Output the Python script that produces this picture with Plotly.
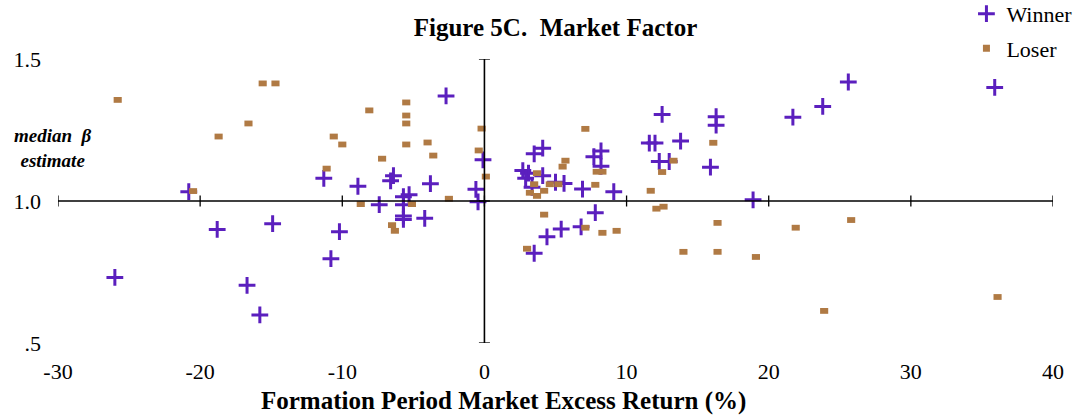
import plotly.graph_objects as go

# Formation-period market excess return (%) and median beta estimate
winner_x = [-26.0, -20.8, -18.8, -16.7, -15.8, -14.9, -11.3, -10.8, -10.2, -8.9,
            -7.4, -6.4, -6.6, -5.3, -5.7, -5.7, -5.7, -5.7, -4.2, -3.8,
            -2.7, -0.6, -0.45, -0.1, 2.7, 3.1, 2.9, 3.5, 4.1, 4.1,
            3.35, 3.5, 4.4, 5.0, 5.6, 5.4, 6.9, 6.8, 7.7, 8.2,
            8.2, 7.8, 9.1, 11.6, 12.0, 12.3, 13.0, 12.5, 13.8, 15.9,
            16.3, 16.3, 18.9, 21.7, 23.8, 25.6, 35.9]
winner_beta = [0.731, 1.033, 0.900, 0.703, 0.599, 0.920, 1.080, 0.797, 0.892, 1.052,
               0.987, 1.089, 1.071, 1.022, 1.015, 0.987, 0.947, 0.935, 0.939, 1.061,
               1.370, 1.041, 0.997, 1.145, 1.107, 1.098, 1.080, 1.166, 1.186, 1.089,
               1.048, 0.816, 0.874, 1.066, 1.062, 0.901, 1.042, 0.909, 1.156, 1.176,
               1.122, 0.959, 1.033, 1.204, 1.204, 1.139, 1.139, 1.305, 1.211, 1.119,
               1.297, 1.267, 1.004, 1.295, 1.333, 1.419, 1.400]

loser_x = [-25.8, -20.5, -18.7, -16.6, -15.6, -14.7, -11.1, -10.6, -10.0, -8.7,
           -8.1, -7.2, -6.5, -6.3, -5.5, -5.5, -5.5, -5.5, -5.1, -4.0,
           -3.6, -2.5, -0.4, -0.2, 0.1, 3.0, 3.2, 3.5, 3.7, 3.7,
           4.2, 4.2, 4.6, 5.2, 5.5, 5.7, 7.1, 7.1, 7.8, 7.9,
           8.3, 8.3, 9.3, 11.7, 12.1, 12.6, 12.5, 13.3, 14.0, 16.1,
           16.4, 16.4, 19.1, 21.9, 23.9, 25.8, 36.1]
loser_beta = [1.356, 1.035, 1.227, 1.273, 1.414, 1.414, 1.114, 1.227, 1.199, 0.989,
              1.319, 1.149, 0.915, 0.895, 1.347, 1.301, 1.273, 1.199, 0.989, 1.206,
              1.160, 1.008, 1.178, 1.255, 1.086, 0.832, 1.029, 1.059, 1.098, 1.018,
              0.952, 1.036, 1.059, 1.059, 1.121, 1.142, 1.254, 0.906, 1.057, 1.103,
              1.103, 0.888, 0.895, 1.036, 0.973, 0.980, 1.102, 1.142, 0.821, 1.205,
              0.923, 0.821, 0.803, 0.906, 0.613, 0.933, 0.662]

x_ticks = [-30, -20, -10, 0, 10, 20, 30, 40]
y_ticks = [0.5, 1.0, 1.5]
y_tick_text = [".5", "1.0", "1.5"]

PURPLE = "#5B1FBE"
BROWN = "#B07A44"
FONT = "Liberation Serif"

fig = go.Figure()

# data series (legend handled by the key entries below)
fig.add_trace(go.Scatter(
    x=winner_x, y=winner_beta, mode="markers", name="Winner",
    showlegend=False,
    marker=dict(symbol="cross-thin", size=12, color=PURPLE,
                line=dict(color=PURPLE, width=3)),
))
fig.add_trace(go.Scatter(
    x=loser_x, y=loser_beta, mode="markers", name="Loser",
    showlegend=False,
    marker=dict(symbol="line-ew", size=5.8, color=BROWN,
                line=dict(color=BROWN, width=5.8)),
))

# legend key entries
fig.add_trace(go.Scatter(
    x=[None], y=[None], mode="markers", name="Winner", legendgroup="w",
    marker=dict(symbol="cross-thin", size=12, color=PURPLE,
                line=dict(color=PURPLE, width=3)),
))
fig.add_trace(go.Scatter(
    x=[None], y=[None], mode="markers", name="Loser", legendgroup="l",
    marker=dict(symbol="square", size=7, color=BROWN, line=dict(width=0)),
))

shapes = []
# axes crossing at (0, 1.0)
shapes.append(dict(type="line", xref="x", yref="y", x0=x_ticks[0], x1=x_ticks[-1],
                   y0=1.0, y1=1.0, line=dict(color="black", width=1.3)))
shapes.append(dict(type="line", xref="x", yref="y", x0=0, x1=0,
                   y0=y_ticks[0], y1=y_ticks[-1], line=dict(color="black", width=1.6)))
# cross tick marks on the horizontal axis
for t in x_ticks:
    shapes.append(dict(type="line", xref="x", yref="y", ysizemode="pixel", yanchor=1.0,
                       x0=t, x1=t, y0=-5.5, y1=5.5, line=dict(color="black", width=1.3)))
# cross tick marks on the vertical axis
for t in y_ticks:
    shapes.append(dict(type="line", xref="x", yref="y", xsizemode="pixel", xanchor=0,
                       x0=-5.5, x1=5.5, y0=t, y1=t, line=dict(color="black", width=1.3)))

tick_font = dict(family=FONT, size=22, color="black")

fig.update_layout(
    width=1084, height=417,
    margin=dict(l=58, r=31, t=59, b=74, autoexpand=False),
    paper_bgcolor="white", plot_bgcolor="white",
    font=dict(family=FONT, size=22, color="black"),
    title=dict(text="<b>Figure 5C.  Market Factor</b>", x=0.5, xref="paper",
               y=0.935, yref="container", yanchor="middle",
               font=dict(family=FONT, size=25, color="black")),
    xaxis=dict(range=[-30, 40], tickvals=x_ticks, ticktext=[str(v) for v in x_ticks],
               showgrid=False, zeroline=False, showline=False, ticks="",
               tickfont=tick_font, ticklabelstandoff=13),
    yaxis=dict(range=[0.5, 1.5], tickvals=y_ticks, ticktext=y_tick_text,
               showgrid=False, zeroline=False, showline=False, ticks="",
               tickfont=tick_font, ticklabelstandoff=16),
    shapes=shapes,
    showlegend=True,
    legend=dict(x=0.913, xanchor="left", y=1.233, yanchor="top",
                bgcolor="rgba(0,0,0,0)", tracegroupgap=3, traceorder="grouped",
                font=dict(family=FONT, size=22, color="black")),
    annotations=[
        dict(text="<b><i>median  β<br>estimate</i></b>", xref="paper", yref="paper",
             x=-0.005, y=0.687, xanchor="center", yanchor="middle",
             showarrow=False, align="center",
             font=dict(family=FONT, size=19, color="black")),
        dict(text="<b>Formation Period Market Excess Return (%)</b>", xref="paper", yref="paper",
             x=0.448, y=-0.205, xanchor="center", yanchor="middle", showarrow=False,
             font=dict(family=FONT, size=25, color="black")),
    ],
)

fig.write_html("out.html")
